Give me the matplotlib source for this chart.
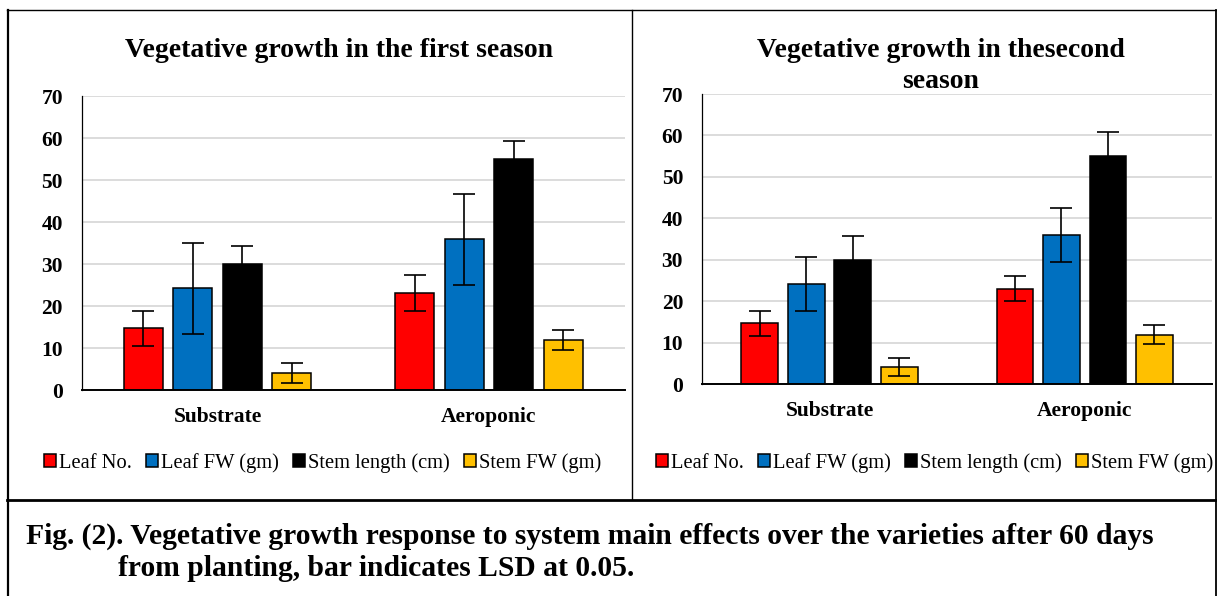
import numpy as np
import matplotlib
matplotlib.use('Agg')
import matplotlib.pyplot as plt
from matplotlib.lines import Line2D

plt.rcParams['font.family'] = ['Liberation Serif', 'DejaVu Serif']

systems = ['Substrate', 'Aeroponic']
series = ['Leaf No.', 'Leaf FW (gm)', 'Stem length (cm)', 'Stem FW (gm)']
colors = ['#FF0000', '#0070C0', '#000000', '#FFC000']

leaf_no = [14.7, 23.1]
leaf_fw = [24.2, 35.9]
stem_len = [29.9, 55.0]
stem_fw = [4.1, 12.0]

lsd_first = [4.2, 10.8, 4.3, 2.4]
lsd_second = [3.0, 6.5, 5.8, 2.2]

titles = ['Vegetative growth in the first season', 'Vegetative growth in thesecond\nseason']
caption1 = 'Fig. (2). Vegetative growth response to system main effects over the varieties after 60 days'
caption2 = 'from planting, bar indicates LSD at 0.05.'

W, H = 1217, 596
fig = plt.figure(figsize=(W / 100, H / 100), dpi=100)


def px_rect(x0, y0, x1, y1):
    # pixel box (top-left origin) -> figure fraction
    return [x0 / W, 1 - y1 / H, (x1 - x0) / W, (y1 - y0) / H]


def draw_panel(rect, lsd, legend_xy):
    ax = fig.add_axes(px_rect(*rect))
    x = np.arange(len(systems))
    width, step = 0.144, 0.182
    values = [leaf_no, leaf_fw, stem_len, stem_fw]
    for i, (name, vals, col) in enumerate(zip(series, values, colors)):
        ax.bar(x + (i - 1.5) * step, vals, width, color=col, edgecolor='black',
               linewidth=1.1, label=name, zorder=3,
               yerr=[lsd[i]] * len(systems),
               error_kw=dict(ecolor='black', elinewidth=1.2, capsize=8, capthick=1.2, zorder=4))
    ax.set_xlim(-0.5, 1.5)
    ax.set_ylim(0, 70)
    ax.set_yticks(range(0, 71, 10))
    ax.set_xticks(x)
    ax.set_xticklabels(systems, fontsize=15.5, fontweight='bold')
    ax.tick_params(axis='both', length=0)
    ax.tick_params(axis='y', pad=13.5, labelsize=15.5)
    ax.tick_params(axis='x', pad=12)
    for lbl in ax.get_yticklabels():
        lbl.set_fontweight('bold')
    ax.grid(axis='y', color='#D9D9D9', linewidth=1.3, zorder=0)
    ax.set_axisbelow(True)
    for s in ['top', 'right']:
        ax.spines[s].set_visible(False)
    ax.spines['left'].set_linewidth(0.9)
    ax.spines['bottom'].set_linewidth(1.4)
    ax.spines['bottom'].set_zorder(5)

    fig.legend(*ax.get_legend_handles_labels(), loc='center',
               bbox_to_anchor=(legend_xy[0] / W, 1 - legend_xy[1] / H),
               ncol=4, frameon=False, fontsize=14.8, handlelength=0.58,
               handleheight=0.58, handletextpad=0.15, columnspacing=0.68,
               borderpad=0, borderaxespad=0)
    return ax


ax1 = draw_panel((81.75, 96, 624.75, 390), lsd_first, (322.5, 463))
ax2 = draw_panel((701.9, 94, 1212.3, 384.3), lsd_second, (934.5, 463))

fig.text(338.5 / W, 1 - 56.7 / H, titles[0], ha='center', va='baseline',
         fontsize=20, fontweight='bold')
t2a, t2b = titles[1].split('\n')
fig.text(940.5 / W, 1 - 56.7 / H, t2a, ha='center', va='baseline',
         fontsize=20, fontweight='bold')
fig.text(940.5 / W, 1 - 88.3 / H, t2b, ha='center', va='baseline',
         fontsize=20, fontweight='bold')

fig.text(26 / W, 1 - 544 / H, caption1, ha='left', va='baseline',
         fontsize=21.3, fontweight='bold')
fig.text(118 / W, 1 - 576.5 / H, caption2, ha='left', va='baseline',
         fontsize=21.3, fontweight='bold')


def frame_line(x0, y0, x1, y1, lw):
    fig.add_artist(Line2D([x0 / W, x1 / W], [1 - y0 / H, 1 - y1 / H],
                          transform=fig.transFigure, color='black', linewidth=lw))


frame_line(8, 10, 8, 596, 1.6)        # left border
frame_line(7, 10, 1215.5, 10, 1.0)    # top border
frame_line(631.5, 10, 631.5, 499, 1.0)  # divider between panels
frame_line(7, 499.5, 1215.5, 499.5, 2.0)  # above caption
frame_line(1215.5, 10, 1215.5, 596, 1.3)  # right border

fig.savefig('out.png', dpi=100, facecolor='white')
